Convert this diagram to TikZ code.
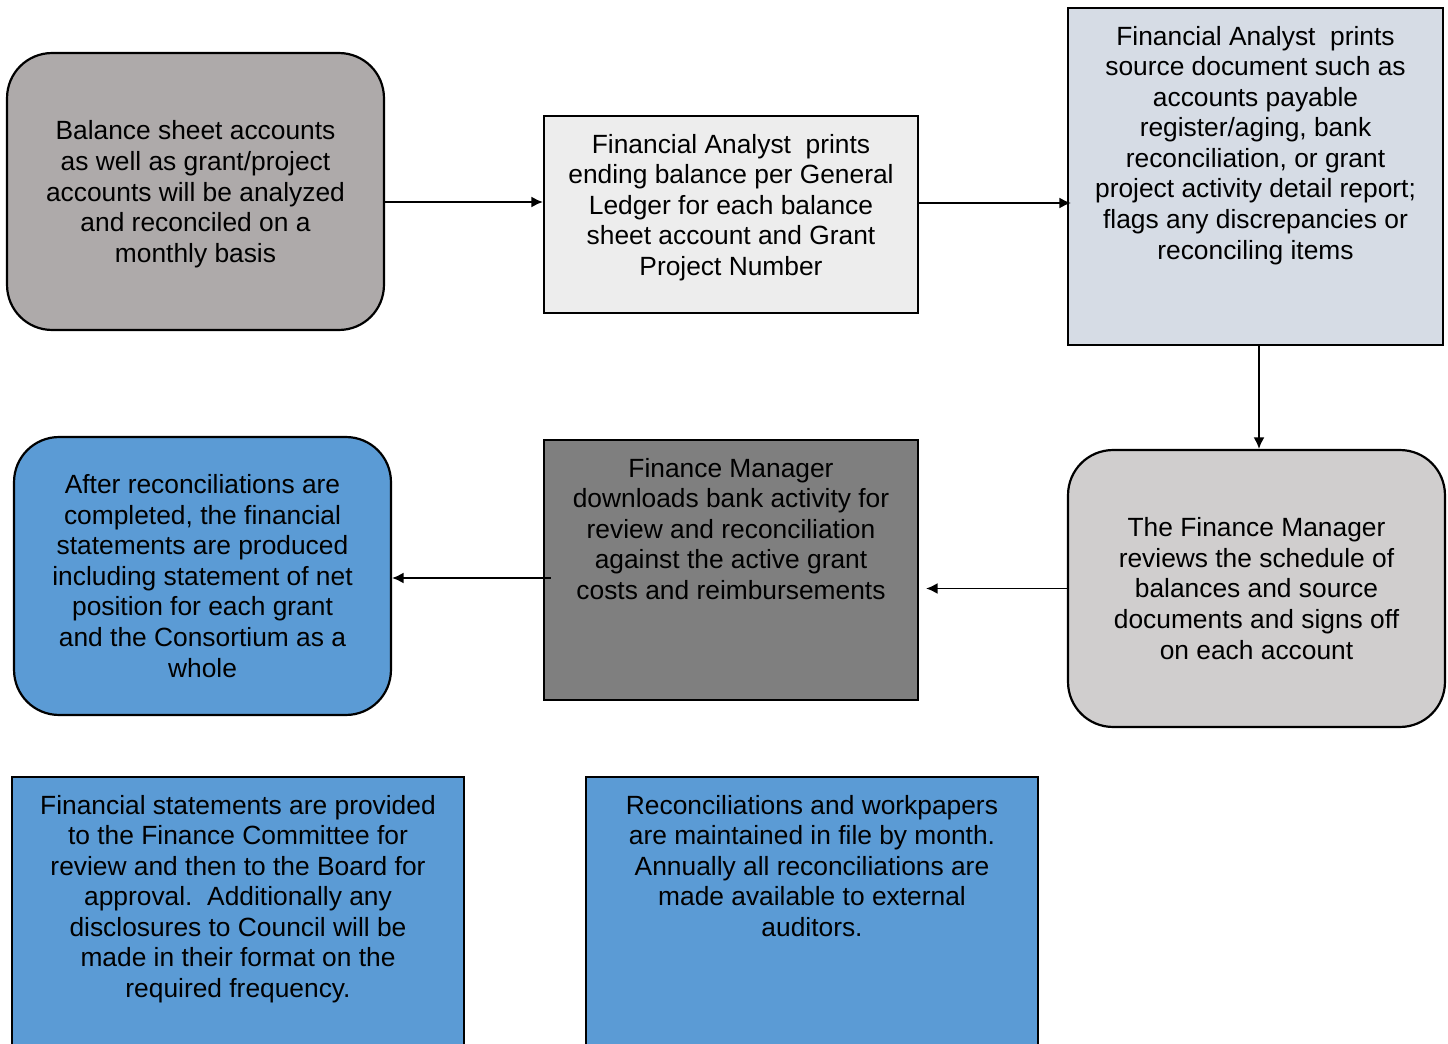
\documentclass[tikz,border=0pt]{standalone}
\usepackage{fontspec}
\setmainfont{Liberation Sans}
\usepackage{tikz}
\usetikzlibrary{arrows.meta,positioning,calc}
\usepackage{xcolor}
\definecolor{boxtaupe}{HTML}{AEAAAA}
\definecolor{boxlight}{HTML}{EDEDED}
\definecolor{boxsteel}{HTML}{D6DCE5}
\definecolor{boxsilver}{HTML}{D0CECE}
\definecolor{boxdark}{HTML}{7F7F7F}
\definecolor{boxblue}{HTML}{5B9BD5}
\newcommand{\toptext}[3]{\parbox[c][#1][t]{#2}{\centering\vspace*{10.2pt}#3\par}}

\begin{document}
\begin{tikzpicture}[x=0.02cm, y=-0.02cm,
    every node/.style={font=\fontsize{15}{17.4}\selectfont},
    roundbox/.style={draw, line width=1.25pt, rounded corners=0.9cm, align=center, minimum width=7.54cm, minimum height=5.54cm},
    sqbox/.style={draw, line width=1.25pt, inner sep=0pt},
    link/.style={-{Latex[length=0.23cm, width=0.22cm]}, line width=1.1pt}]
    \clip (0,0) rectangle (1448,1044);

    % Top row
    \node[roundbox, fill=boxtaupe, text depth=-0.02cm] (balance) at (195.5,191.5) {Balance sheet accounts\\as well as grant/project\\accounts will be analyzed\\and reconciled on a\\monthly basis};
    \node[sqbox, fill=boxlight] (ledger) at (731,214.5) {\toptext{3.94cm}{7.48cm}{Financial Analyst\ \ prints\\ending balance per General\\Ledger for each balance\\sheet account and Grant\\Project Number}};
    \node[sqbox, fill=boxsteel] (source) at (1255.5,176.5) {\toptext{6.74cm}{7.5cm}{Financial Analyst\ \ prints\\source document such as\\accounts payable\\register/aging, bank\\reconciliation, or grant\\project activity detail report;\\flags any discrepancies or\\reconciling items}};

    % Middle row
    \node[roundbox, fill=boxsilver] (review) at (1256.5,588.5) {The Finance Manager\\reviews the schedule of\\balances and source\\documents and signs off\\on each account};
    \node[sqbox, fill=boxdark] (bank) at (731,570) {\toptext{5.2cm}{7.48cm}{Finance Manager\\downloads bank activity for\\review and reconciliation\\against the active grant\\costs and reimbursements}};
    \node[roundbox, fill=boxblue, minimum height=5.56cm] (statements) at (202.5,576) {After reconciliations are\\completed, the financial\\statements are produced\\including statement of net\\position for each grant\\and the Consortium as a\\whole};

    % Bottom row (runs off the page)
    \node[sqbox, fill=boxblue] (board) at (238,947) {\toptext{6.8cm}{9.04cm}{Financial statements are provided\\to the Finance Committee for\\review and then to the Board for\\approval.\ \ Additionally any\\disclosures to Council will be\\made in their format on the\\required frequency.}};
    \node[sqbox, fill=boxblue] (files) at (812,947) {\toptext{6.8cm}{9.04cm}{Reconciliations and workpapers\\are maintained in file by month.\\Annually all reconciliations are\\made available to external\\auditors.}};

    % Arrows
    \coordinate (r1) at (0,202);
    \coordinate (r2) at (0,203);
    \coordinate (r3) at (1259,0);
    \coordinate (r5) at (0,578);
    \draw[link] (balance.east |- r1) -- (ledger.west |- r1);
    \draw[link, shorten >=-0.08cm] (ledger.east |- r2) -- (source.west |- r2);
    \draw[link] (source.south -| r3) -- (review.north -| r3);
    \draw[link, shorten >=0.14cm] (review.west) -- (review.west -| bank.east);
    \draw[link, shorten <=-0.16cm] (bank.west |- r5) -- (statements.east |- r5);
\end{tikzpicture}
\end{document}
